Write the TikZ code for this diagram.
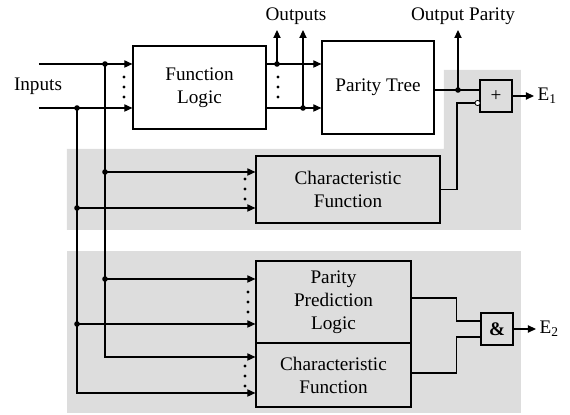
\documentclass[tikz,border=0pt]{standalone}
\usepackage{fontspec}
\setmainfont{Liberation Serif}
\usepackage{xcolor}
\usepackage{tikz}
\usetikzlibrary{calc}
\usetikzlibrary{arrows.meta}
\definecolor{bggray}{RGB}{221,221,221}
\newcommand{\mytext}{\fontsize{9.6}{11.5}\selectfont}
\newcommand{\vdotsat}[2]{\foreach \dy in {-10,0,10} \fill (#1,#2+\dy) circle (0.8pt);}
\tikzset{
  myarrow/.style={
    draw=black,
    -{Triangle[length=4pt,width=3.6pt]},
  },
  mybox/.style={
    draw=black,
    shape=rectangle,
    align=center,
    inner sep=0pt,
  },
  mygate/.style={
    draw=black,
    shape=rectangle,
    fill=bggray,
    inner sep=0pt,
    minimum size=16pt,
  },
  mydot/.style={
    circle,
    fill=black,
    inner sep=0pt,
    minimum size=2.8pt,
  },
  mybubble/.style={
    circle,
    draw=black,
    fill=white,
    line width=0.4pt,
    inner sep=0pt,
    minimum size=2.6pt,
  },
}

\begin{document}
\begin{tikzpicture}[x=0.5pt, y=-0.5pt, font=\mytext, line width=0.6pt]
    \useasboundingbox (0,0) rectangle (570,415);
    % shaded checker areas
    \fill [bggray] (67,149) -- (444,149) -- (444,70) -- (521,70) -- (521,230) -- (67,230) -- cycle;
    \fill [bggray] (67,251) rectangle (521,413);

    \node [mybox, minimum width=66.5pt, minimum height=41.5pt] (FuncLogic) at (199.5,87.5) {Function\\Logic};
    \node [mybox, minimum width=56pt, minimum height=46.5pt] (ParTree) at (378,87.5) {Parity Tree};
    \node [mybox, fill=bggray, minimum width=92pt, minimum height=33.5pt] (CharFunA) at (348,189.5) {Characteristic\\Function};
    \node [mybox, fill=bggray, minimum width=77.5pt, minimum height=41pt] (ParPred) at (333.5,302) {Parity\\Prediction\\Logic};
    \node [mybox, fill=bggray, minimum width=77.5pt, minimum height=32pt] (CharFunB) at (333.5,375) {Characteristic\\Function};
    \node [mygate] (Xor) at (496,96) {+};
    \node [mygate, font=\mytext\bfseries] (And) at (497,329) {\&};

    \node (InLbl) at (38,86) {Inputs};
    \node [anchor=base] (OutLbl) at (296,21) {Outputs};
    \node [anchor=base] (ParLbl) at (463,21) {Output Parity};

    % inputs
    \coordinate (InA) at (39,64);
    \coordinate (InB) at (39,108);
    \coordinate (JA) at (105,64);
    \coordinate (JB) at (77,108);
    \coordinate (RowA) at (0,172);
    \coordinate (RowB) at (0,208);
    \coordinate (RowC) at (0,279);
    \coordinate (RowD) at (0,324);
    \coordinate (RowE) at (0,357);
    \coordinate (RowF) at (0,393);
    \draw [myarrow] (InA) -- (InA -| FuncLogic.west);
    \draw [myarrow] (InB) -- (InB -| FuncLogic.west);
    \draw [myarrow] (JA) |- (CharFunB.west |- RowE);
    \draw [myarrow] (JB) |- (CharFunB.west |- RowF);
    \draw [myarrow] (JA |- RowA) -- (CharFunA.west |- RowA);
    \draw [myarrow] (JB |- RowB) -- (CharFunA.west |- RowB);
    \draw [myarrow] (JA |- RowC) -- (ParPred.west |- RowC);
    \draw [myarrow] (JB |- RowD) -- (ParPred.west |- RowD);
    \foreach \p in {JA, JB, JA |- RowA, JB |- RowB, JA |- RowC, JB |- RowD}
      \node [mydot] at (\p) {};

    % outputs
    \coordinate (Top) at (0,30);
    \coordinate (OutA) at (277,64);
    \coordinate (OutB) at (303,108);
    \draw [myarrow] (FuncLogic.east |- InA) -- (ParTree.west |- InA);
    \draw [myarrow] (FuncLogic.east |- InB) -- (ParTree.west |- InB);
    \draw [myarrow] (OutA) -- (OutA |- Top);
    \draw [myarrow] (OutB) -- (OutB |- Top);
    \node [mydot] at (OutA) {};
    \node [mydot] at (OutB) {};

    % parity checker
    \coordinate (JP) at (458,90);
    \draw (ParTree.east |- JP) -- (Xor.west |- JP);
    \draw [myarrow] (JP) -- (JP |- Top);
    \node [mydot] at (JP) {};
    \node [mybubble] (Bub) at (477.6,103) {};
    \coordinate (XorIn) at (457,103);
    \draw (CharFunA.east) -| (XorIn) -- (Bub);
    \coordinate (EA) at (534,96);
    \draw [myarrow] (Xor.east) -- (EA);
    \node [anchor=west, inner sep=1.5pt] (EOne) at (EA) {E\textsubscript{1}};

    % prediction checker
    \draw ([yshift=2pt]ParPred.east) -| ($(And.west)+(-24,-8)$) -- ($(And.west)+(0,-8)$);
    \draw ([yshift=1pt]CharFunB.east) -| ($(And.west)+(-24,8)$) -- ($(And.west)+(0,8)$);
    \coordinate (EB) at (536,329);
    \draw [myarrow] (And.east) -- (EB);
    \node [anchor=west, inner sep=1.5pt] (ETwo) at (EB) {E\textsubscript{2}};

    \vdotsat{124}{87}
    \vdotsat{278}{87}
    \vdotsat{245}{189}
    \vdotsat{248}{302}
    \vdotsat{245}{376}
\end{tikzpicture}
\end{document}
